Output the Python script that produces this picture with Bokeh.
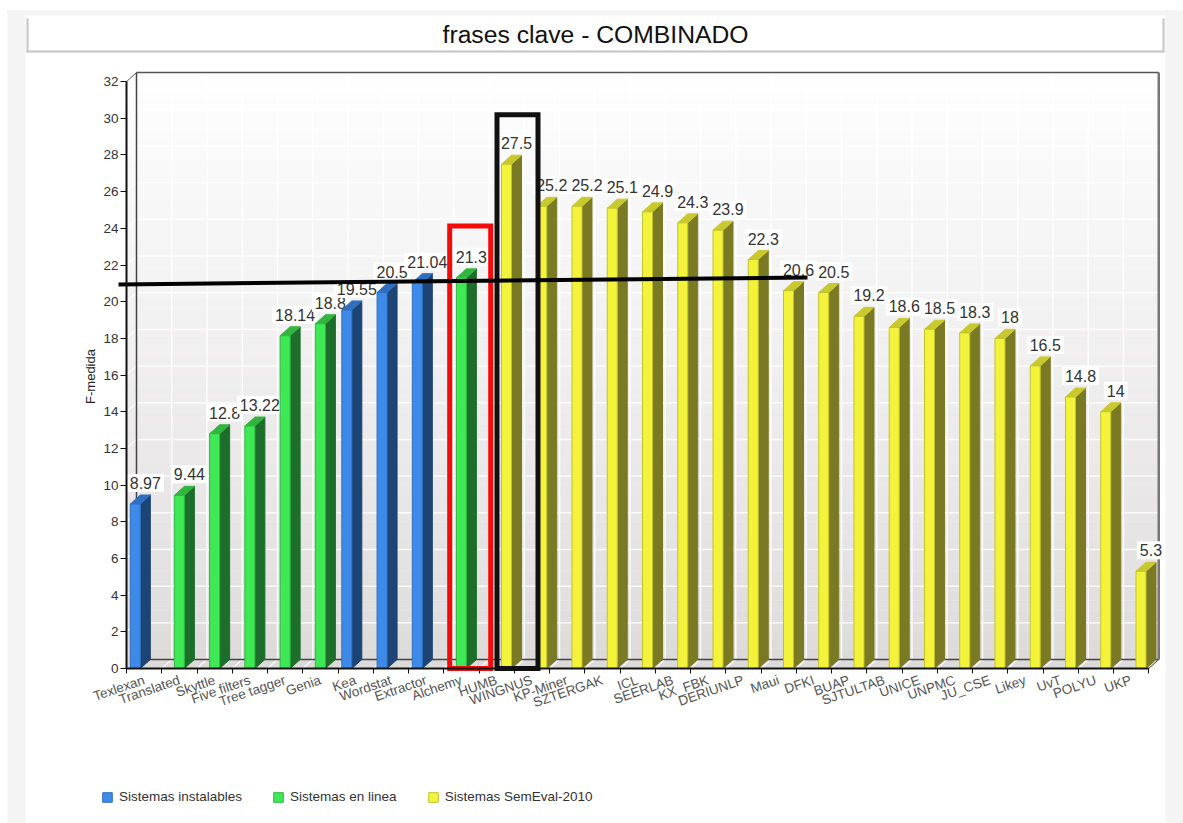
import math
from bokeh.plotting import figure
from bokeh.embed import file_html
from bokeh.resources import INLINE
from bokeh.models import (Range1d, FixedTicker, Legend, LegendItem, Label)
from bokeh.core.properties import value

title_text = "frases clave - COMBINADO"
y_title = "F-medida"
categories = ["Texlexan", "Translated", "Skyttle", "Five filters", "Tree tagger", "Genia", "Kea",
              "Wordstat", "Extractor", "Alchemy", "HUMB", "WINGNUS", "KP-Miner", "SZTERGAK", "ICL",
              "SEERLAB", "KX_FBK", "DERIUNLP", "Maui", "DFKI", "BUAP", "SJTULTAB", "UNICE", "UNPMC",
              "JU_CSE", "Likey", "UvT", "POLYU", "UKP"]
series_index = [0, 1, 1, 1, 1, 1, 0, 0, 0, 1] + [2] * 19
values = [8.97, 9.44, 12.8, 13.22, 18.14, 18.8, 19.55, 20.5, 21.04, 21.3,
          27.5, 25.2, 25.2, 25.1, 24.9, 24.3, 23.9, 22.3, 20.6, 20.5,
          19.2, 18.6, 18.5, 18.3, 18, 16.5, 14.8, 14, 5.3]
series_names = ["Sistemas instalables", "Sistemas en linea", "Sistemas SemEval-2010"]
front_colors = ["#3d8ae8", "#3fe855", "#f3f33c"]
edge_colors = ["#2f6fc0", "#2fb843", "#c2c22e"]
side_colors = ["#1c4474", "#1e6e2b", "#7b7a24"]
top_colors = ["#2f6fc0", "#32b53f", "#c9c92f"]
dodge = [-0.25, 0.0, 0.28]
y_ticks = list(range(0, 33, 2))

W, H = 1183, 823
ORIGIN_X, ORIGIN_Y = 126, 668   # where data (0, 0) falls in the canvas
PX_X = 35.25
PX_Y = 18.34
DX = 10 / PX_X
DY = 9 / PX_Y
BAR_W = 10 / PX_X
N = len(categories)
F = "Liberation Sans"


def X(px):
    return (px - ORIGIN_X) / PX_X


def Y(py):
    return (ORIGIN_Y - py) / PX_Y


p = figure(width=W, height=H, frame_width=W, frame_height=H, output_backend="svg", toolbar_location=None,
           x_range=Range1d(X(0), X(W)), y_range=Range1d(Y(H), Y(0)), title=None,
           min_border=0, background_fill_color="white", border_fill_color="white", outline_line_color=None)

# page strips and title bar bevel
for l, r, t, b, c in [(7, 25, 10, 823, "#f4f4f4"), (7, 1183, 10, 15, "#f4f4f4"), (1165, 1183, 10, 823, "#f4f4f4"),
                      (26, 28, 18, 52, "#c4c4c4"), (26, 1164, 50, 52, "#c4c4c4"), (1162, 1164, 18, 52, "#c4c4c4")]:
    p.quad(left=X(l), right=X(r), top=Y(t), bottom=Y(b), fill_color=c, line_color=None)
p.add_layout(Label(x=X(595), y=Y(34), text=title_text, text_align="center", text_baseline="middle",
                   text_font=F, text_font_size="24.7px", text_color="#111111"))

# walls
BANDS = 60
top_v, bot_v = y_ticks[-1], y_ticks[0]
for i in range(BANDS):
    f0 = i / BANDS
    f1 = (i + 1) / BANDS
    y0 = bot_v + (top_v - bot_v) * f0
    y1 = bot_v + (top_v - bot_v) * f1
    g = f0 ** 0.8
    col = "#%02x%02x%02x" % (int(221 + 34 * g), int(218 + 37 * g), int(218 + 37 * g))
    p.quad(left=DX, right=N + DX, bottom=y0 + DY, top=y1 + DY, fill_color=col, line_color=col, line_width=0.5)
    p.patch([0, DX, DX, 0], [y0, y0 + DY, y1 + DY, y1], fill_color=col, line_color=col, line_width=0.5)
p.patch([0, DX, N + DX, N], [0, DY, DY, 0], fill_color="#dddada", line_color="#dddada")

# grid
for v in y_ticks[1:]:
    p.segment(DX, v + DY, N + DX, v + DY, line_color="white", line_width=1.5, line_alpha=0.85)
    p.segment(0, v, DX, v + DY, line_color="white", line_width=1.2, line_alpha=0.85)
for i in range(1, N):
    p.segment(i + DX, DY, i + DX, top_v + DY, line_color="white", line_width=1.5, line_alpha=0.85)
    p.segment(i, 0, i + DX, DY, line_color="white", line_width=1.2, line_alpha=0.85)

# wall frame
p.segment(DX, top_v + DY, N + DX, top_v + DY, line_color="#555555", line_width=1.5)
p.segment(DX, DY, DX, top_v + DY, line_color="#444444", line_width=1.5)
p.segment(DX, DY, N + DX, DY, line_color="#444444", line_width=1.5)
p.segment(N + DX, DY, N + DX, top_v + DY, line_color="#777777", line_width=2.5)
p.segment(0, top_v, DX, top_v + DY, line_color="#555555", line_width=1)
p.segment(N, 0, N + DX, DY, line_color="#555555", line_width=1)

# bars
legend_r = {}
for i, (name, s, v) in enumerate(zip(categories, series_index, values)):
    x = i + 0.5 + dodge[s]
    xr = x + BAR_W / 2
    xl = x - BAR_W / 2
    p.patch([xr, xr + DX, xr + DX, xr], [0, DY, v + DY, v], fill_color=side_colors[s], line_color=side_colors[s])
    p.patch([xl, xr, xr + DX, xl + DX], [v, v, v + DY, v + DY], fill_color=top_colors[s], line_color=top_colors[s])
    r = p.vbar(x=[x], top=[v], bottom=0, width=BAR_W, fill_color=front_colors[s], line_color=edge_colors[s])
    legend_r.setdefault(s, r)
    p.text(x=[x], y=[v], text=[f"{v:g}"], x_offset=10, y_offset=-21, text_align="center",
           text_baseline="middle", text_font=value(F), text_font_size="16px", text_color="#333333",
           background_fill_color="white", padding=3)

# axes
xa = p.xaxis[0]
xa.fixed_location = 0
xa.bounds = (0, N)
xa.ticker = FixedTicker(ticks=[i + 0.5 for i in range(N)], minor_ticks=list(range(N + 1)))
xa.major_label_overrides = {i + 0.5: c for i, c in enumerate(categories)}
xa.major_label_orientation = 0.33
xa.major_label_text_font = F
xa.major_label_text_font_size = "13.5px"
xa.major_label_text_color = "#555555"
xa.major_label_standoff = 6
xa.major_tick_line_color = None
xa.major_tick_in = 0
xa.major_tick_out = 0
xa.minor_tick_line_color = "#111111"
xa.minor_tick_line_width = 1
xa.minor_tick_in = 0
xa.minor_tick_out = 5
xa.axis_line_color = "#111111"
xa.axis_line_width = 2

ya = p.yaxis[0]
ya.fixed_location = 0
ya.bounds = (0, top_v)
ya.ticker = FixedTicker(ticks=y_ticks)
ya.major_label_text_font = F
ya.major_label_text_font_size = "13.5px"
ya.major_label_text_color = "#333333"
ya.major_label_standoff = 2
ya.major_tick_in = 0
ya.major_tick_out = 6
ya.major_tick_line_color = "#111111"
ya.minor_tick_line_color = None
ya.axis_line_color = "#111111"
ya.axis_line_width = 2
p.grid.visible = False
p.add_layout(Label(x=X(90), y=Y(376), text=y_title, angle=math.pi / 2, text_align="center", text_baseline="middle",
                   text_font=F, text_font_size="13px", text_color="#222222"))

# hand-drawn overlays of the reference
red_x = [X(449.2), X(490.2)]
red_top = Y(225.5)
black_x = [X(496.5), X(537.5)]
black_top = Y(114.2)
for xs, t, c in [(red_x, red_top, "#f50a0a"), (black_x, black_top, "#111111")]:
    p.patch(x=[xs[0], xs[1], xs[1], xs[0]], y=[0, 0, t, t], fill_alpha=0, line_color=c, line_width=5,
            line_join="miter")
p.line(x=[X(118), X(807)], y=[Y(284), Y(277)], line_color="#000000", line_width=4)

legend = Legend(items=[LegendItem(label=series_names[s], renderers=[legend_r[s]]) for s in range(3)],
                orientation="horizontal", location=(101, 19), border_line_color=None, background_fill_alpha=0,
                label_text_font=F, label_text_font_size="13.5px", label_text_color="#333333",
                glyph_width=12, glyph_height=12, label_standoff=6, spacing=30, margin=0, padding=0)
p.add_layout(legend)

open("out.html", "w").write(file_html(p, INLINE))
